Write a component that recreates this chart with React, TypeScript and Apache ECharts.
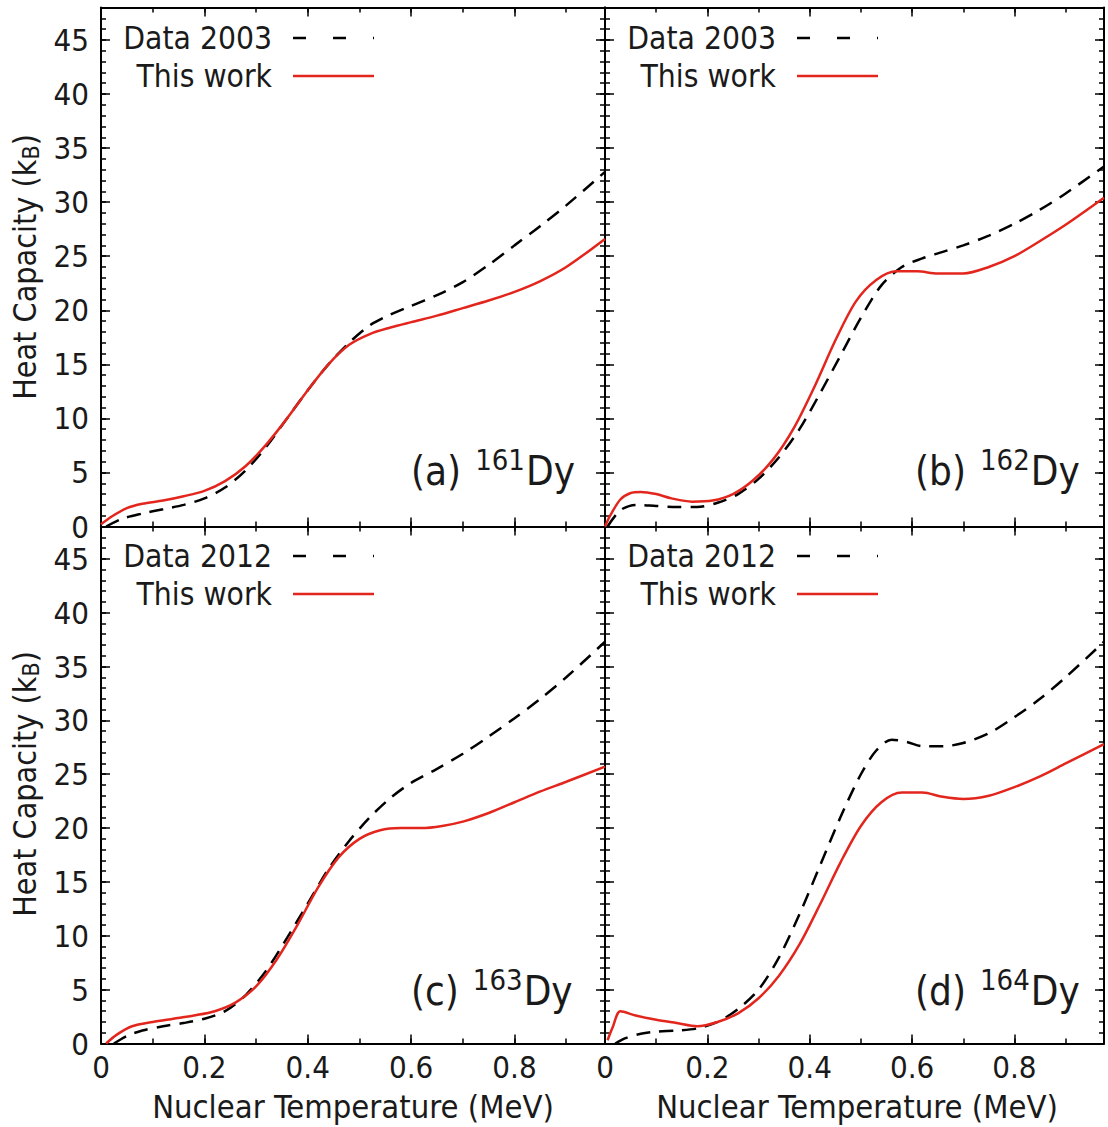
import React, { useEffect, useRef } from "react";
import * as echarts from "echarts";

// ---------------- data ----------------
// (a) 161Dy
const T_A_work = [0, 0.02, 0.05, 0.08, 0.12, 0.16, 0.2, 0.24, 0.28, 0.32, 0.36, 0.4, 0.44, 0.48, 0.52, 0.56, 0.6, 0.65, 0.7, 0.75, 0.8, 0.85, 0.9, 0.975];
const C_A_work = [0.2, 0.9, 1.7, 2.1, 2.4, 2.8, 3.3, 4.2, 5.6, 7.6, 10.0, 12.6, 15.0, 16.8, 17.8, 18.4, 18.9, 19.5, 20.2, 20.9, 21.7, 22.7, 24.0, 26.6];
const T_A_data = [0.01, 0.04, 0.08, 0.12, 0.16, 0.2, 0.24, 0.28, 0.32, 0.36, 0.4, 0.44, 0.48, 0.52, 0.56, 0.6, 0.65, 0.7, 0.75, 0.8, 0.85, 0.9, 0.975];
const C_A_data = [0, 0.7, 1.2, 1.6, 2.0, 2.6, 3.6, 5.2, 7.4, 10.0, 12.6, 15.0, 17.0, 18.6, 19.6, 20.4, 21.4, 22.6, 24.2, 26.0, 27.8, 29.7, 32.8];

// (b) 162Dy
const T_B_work = [0, 0.01, 0.03, 0.05, 0.07, 0.1, 0.13, 0.17, 0.21, 0.25, 0.29, 0.33, 0.37, 0.41, 0.45, 0.49, 0.53, 0.57, 0.61, 0.65, 0.7, 0.75, 0.8, 0.85, 0.9, 0.975];
const C_B_work = [0, 1.0, 2.5, 3.1, 3.2, 3.0, 2.6, 2.3, 2.4, 3.0, 4.3, 6.3, 9.2, 13.0, 17.2, 20.8, 22.8, 23.6, 23.6, 23.4, 23.4, 24.0, 25.0, 26.4, 27.9, 30.4];
const T_B_data = [0.005, 0.03, 0.06, 0.1, 0.14, 0.18, 0.22, 0.26, 0.3, 0.34, 0.38, 0.42, 0.46, 0.5, 0.54, 0.58, 0.62, 0.66, 0.7, 0.75, 0.8, 0.85, 0.9, 0.975];
const C_B_data = [0, 1.5, 2.0, 1.9, 1.8, 1.8, 2.2, 3.0, 4.4, 6.4, 9.0, 12.3, 15.8, 19.3, 22.3, 24.0, 24.8, 25.4, 26.0, 26.9, 28.0, 29.3, 30.8, 33.3];

// (c) 163Dy
const T_C_work = [0.01, 0.03, 0.06, 0.1, 0.14, 0.18, 0.22, 0.26, 0.3, 0.34, 0.38, 0.42, 0.46, 0.5, 0.54, 0.58, 0.62, 0.66, 0.7, 0.75, 0.8, 0.85, 0.9, 0.975];
const C_C_work = [0, 0.8, 1.6, 2.0, 2.3, 2.6, 3.0, 3.8, 5.3, 7.8, 11.0, 14.5, 17.3, 19.0, 19.8, 20.0, 20.0, 20.2, 20.6, 21.4, 22.4, 23.4, 24.3, 25.7];
const T_C_data = [0.025, 0.05, 0.08, 0.12, 0.16, 0.2, 0.24, 0.28, 0.32, 0.36, 0.4, 0.44, 0.48, 0.52, 0.56, 0.6, 0.65, 0.7, 0.75, 0.8, 0.85, 0.9, 0.975];
const C_C_data = [0, 0.7, 1.2, 1.6, 1.9, 2.3, 3.0, 4.5, 6.8, 9.8, 13.0, 16.2, 18.8, 21.0, 22.8, 24.2, 25.5, 26.9, 28.5, 30.2, 32.0, 34.0, 37.3];

// (d) 164Dy
const T_D_work = [0.005, 0.015, 0.03, 0.06, 0.1, 0.14, 0.18, 0.22, 0.26, 0.3, 0.34, 0.38, 0.42, 0.46, 0.5, 0.54, 0.58, 0.62, 0.66, 0.7, 0.75, 0.8, 0.85, 0.9, 0.975];
const C_D_work = [0.3, 1.5, 3.0, 2.6, 2.2, 1.9, 1.6, 2.0, 2.8, 4.2, 6.3, 9.2, 12.9, 16.8, 20.2, 22.4, 23.3, 23.3, 22.9, 22.7, 23.0, 23.8, 24.8, 26.0, 27.8];
const T_D_data = [0.02, 0.04, 0.07, 0.1, 0.14, 0.18, 0.22, 0.26, 0.3, 0.34, 0.38, 0.42, 0.46, 0.5, 0.53, 0.56, 0.59, 0.62, 0.66, 0.7, 0.75, 0.8, 0.85, 0.9, 0.975];
const C_D_data = [0, 0.5, 0.9, 1.1, 1.2, 1.4, 2.0, 3.2, 5.0, 8.0, 12.0, 16.5, 21.0, 25.0, 27.2, 28.2, 28.0, 27.6, 27.6, 27.9, 28.8, 30.3, 32.0, 34.0, 37.3];

const panelLetters = ["a", "b", "c", "d"];
const panelMass = ["161", "162", "163", "164"];
const legendDataNames = ["Data 2003", "Data 2003", "Data 2012", "Data 2012"];
const legendWorkName = "This work";
const xAxisTitle = "Nuclear Temperature (MeV)";
const yAxisTitleMain = "Heat Capacity (k";
const yAxisTitleSub = "B";
const yAxisTitleEnd = ")";

const workSets = [
  [T_A_work, C_A_work],
  [T_B_work, C_B_work],
  [T_C_work, C_C_work],
  [T_D_work, C_D_work],
];
const dataSets = [
  [T_A_data, C_A_data],
  [T_B_data, C_B_data],
  [T_C_data, C_C_data],
  [T_D_data, C_D_data],
];

// ---------------- layout ----------------
const FONT = '"DejaVu Sans Condensed", "DejaVu Sans", sans-serif';
const TXT = "#1a1a1a";
const RED = "#e3261d";
const X_MAX = 0.975;
const Y_MAX = 48;

const PANELS = [
  { left: 101, top: 7.5, width: 504, height: 519 },
  { left: 605, top: 7.5, width: 499, height: 519 },
  { left: 101, top: 526.5, width: 504, height: 517 },
  { left: 605, top: 526.5, width: 499, height: 517 },
];

let measureCtx: CanvasRenderingContext2D | null = null;
function measure(text: string, size: number): number {
  if (!measureCtx) {
    const c = document.createElement("canvas");
    measureCtx = c.getContext("2d");
  }
  if (!measureCtx) return text.length * size * 0.55;
  measureCtx.font = `${size}px ${FONT}`;
  return measureCtx.measureText(text).width;
}

function textEl(x: number, y: number, text: string, size: number, align: string, extra: any = {}) {
  return {
    type: "text",
    x,
    y,
    z: 100,
    style: {
      text,
      fontSize: size,
      fontFamily: FONT,
      fill: TXT,
      align,
      verticalAlign: "middle",
      ...extra,
    },
  };
}

function fmtX(v: number) {
  const k = v / 0.2;
  if (Math.abs(k - Math.round(k)) > 1e-6) return "";
  if (Math.abs(v) < 1e-9) return "0";
  return (Math.round(v * 10) / 10).toString();
}
function fmtY(v: number) {
  const k = v / 5;
  if (Math.abs(k - Math.round(k)) > 1e-6) return "";
  return String(Math.round(v));
}

function makeXAxis(grid: number, position: string, major: boolean, labels: boolean) {
  return {
    type: "value",
    gridIndex: grid,
    position,
    min: 0,
    max: X_MAX,
    interval: major ? 0.2 : 0.1,
    axisLine: { show: major, onZero: false, lineStyle: { color: "#000", width: 2 } },
    axisTick: { show: true, inside: true, length: major ? 9 : 5, lineStyle: { color: "#000", width: 1.5 } },
    minorTick: { show: false },
    splitLine: { show: false },
    axisLabel: {
      show: labels,
      fontSize: 31,
      fontFamily: FONT,
      color: TXT,
      margin: 10,
      lineHeight: 26,
      showMaxLabel: false,
      formatter: fmtX,
    },
  };
}
function makeYAxis(grid: number, position: string, major: boolean, labels: boolean) {
  return {
    type: "value",
    gridIndex: grid,
    position,
    min: 0,
    max: Y_MAX,
    interval: major ? 5 : 1,
    axisLine: { show: major, onZero: false, lineStyle: { color: "#000", width: 2 } },
    axisTick: { show: true, inside: true, length: major ? 9 : 5, lineStyle: { color: "#000", width: 1.5 } },
    minorTick: { show: false },
    splitLine: { show: false },
    axisLabel: {
      show: labels,
      fontSize: 31,
      fontFamily: FONT,
      color: TXT,
      margin: 12,
      lineHeight: 24,
      showMaxLabel: false,
      formatter: fmtY,
    },
  };
}

function buildOption() {
  const grid = PANELS.map((p) => ({ ...p, containLabel: false, outerBoundsMode: "none", show: false }));
  const xAxis: any[] = [];
  const yAxis: any[] = [];
  const series: any[] = [];
  PANELS.forEach((_, p) => {
    const bottomRow = p >= 2;
    const leftCol = p % 2 === 0;
    xAxis.push(makeXAxis(p, "bottom", true, bottomRow));
    xAxis.push(makeXAxis(p, "bottom", false, false));
    xAxis.push(makeXAxis(p, "top", true, false));
    xAxis.push(makeXAxis(p, "top", false, false));
    yAxis.push(makeYAxis(p, "left", true, leftCol));
    yAxis.push(makeYAxis(p, "left", false, false));
    yAxis.push(makeYAxis(p, "right", true, false));
    yAxis.push(makeYAxis(p, "right", false, false));

    const [td, cd] = dataSets[p];
    series.push({
      type: "line",
      name: legendDataNames[p],
      xAxisIndex: p * 4,
      yAxisIndex: p * 4,
      data: td.map((t, i) => [t, cd[i]]),
      showSymbol: false,
      smooth: 0.3,
      lineStyle: { color: "#000", width: 2.5, type: [14, 9] },
      z: 2,
    });
    const [tw, cw] = workSets[p];
    series.push({
      type: "line",
      name: legendWorkName,
      xAxisIndex: p * 4,
      yAxisIndex: p * 4,
      data: tw.map((t, i) => [t, cw[i]]),
      showSymbol: false,
      smooth: 0.3,
      lineStyle: { color: RED, width: 2.5 },
      z: 3,
    });
  });

  const graphic: any[] = [];
  PANELS.forEach((p, i) => {
    const dy = i >= 2 ? 518 : 0;
    const lx = p.left + 171;
    // legend
    graphic.push(textEl(lx, 38 + dy, legendDataNames[i], 31.5, "right"));
    graphic.push(textEl(lx, 76 + dy, legendWorkName, 31.5, "right"));
    graphic.push({
      type: "line",
      z: 100,
      shape: { x1: lx + 21, y1: 38 + dy, x2: lx + 102, y2: 38 + dy },
      style: { stroke: "#000", lineWidth: 2.5, lineDash: [13, 27] },
    });
    graphic.push({
      type: "line",
      z: 100,
      shape: { x1: lx + 21, y1: 76 + dy, x2: lx + 102, y2: 76 + dy },
      style: { stroke: RED, lineWidth: 2.5 },
    });
    // annotation (x) ^AAA Dy
    const ay = i >= 2 ? 991 : 471;
    const label = `(${panelLetters[i]})`;
    const x0 = p.left + 310;
    const w1 = measure(label, 40);
    const supX = x0 + w1 + 14;
    const supW = measure(panelMass[i], 29);
    graphic.push(textEl(x0, ay, label, 40, "left"));
    graphic.push(textEl(supX, ay - 11, panelMass[i], 29, "left"));
    graphic.push(textEl(supX + supW + 1, ay, "Dy", 40, "left"));
  });

  // x-axis titles
  graphic.push(textEl(353, 1107, xAxisTitle, 32.5, "center"));
  graphic.push(textEl(857, 1107, xAxisTitle, 32.5, "center"));

  // y-axis titles (rotated)
  const wMain = measure(yAxisTitleMain, 32);
  const wSub = measure(yAxisTitleSub, 23);
  const wEnd = measure(yAxisTitleEnd, 32);
  const W = wMain + wSub + wEnd;
  [267, 784].forEach((cy) => {
    graphic.push({
      type: "group",
      x: 25,
      y: cy,
      rotation: Math.PI / 2,
      z: 100,
      children: [
        textEl(-W / 2, 0, yAxisTitleMain, 32, "left"),
        textEl(-W / 2 + wMain, 6, yAxisTitleSub, 23, "left"),
        textEl(-W / 2 + wMain + wSub, 0, yAxisTitleEnd, 32, "left"),
      ],
    });
  });

  return {
    animation: false,
    backgroundColor: "#fff",
    grid,
    xAxis,
    yAxis,
    series,
    graphic,
  };
}

export default function App() {
  const ref = useRef<HTMLDivElement>(null);
  useEffect(() => {
    if (!ref.current) return;
    const chart = echarts.init(ref.current, null, { renderer: "svg" });
    chart.setOption(buildOption() as any);
    return () => chart.dispose();
  }, []);
  return (
    <div
      ref={ref}
      style={{ position: "absolute", left: 0, top: 0, width: 1108, height: 1127, background: "#fff" }}
    />
  );
}
